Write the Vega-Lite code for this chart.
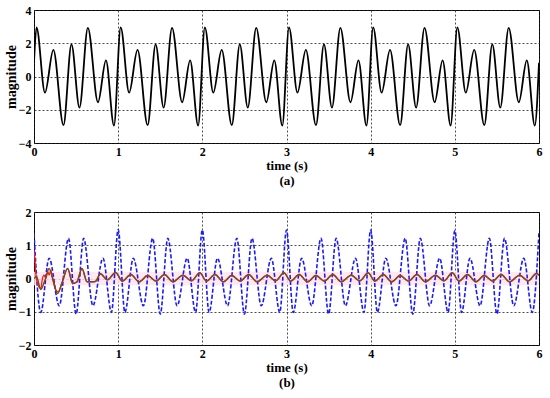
{
  "$schema": "https://vega.github.io/schema/vega-lite/v6.json",
  "padding": {"left": 3, "top": 3, "right": 8, "bottom": 5},
  "spacing": 69,
  "bounds": "flush",
  "background": "white",
  "config": {
    "font": "Liberation Serif",
    "view": {"stroke": "black", "strokeWidth": 1},
    "axis": {
      "labelFont": "Liberation Serif", "labelFontWeight": "bold", "labelFontSize": 12, "labelColor": "black",
      "titleFont": "Liberation Serif", "titleFontWeight": "bold", "titleFontSize": 13, "titleColor": "black",
      "domain": false, "ticks": false, "grid": true, "gridDash": [2, 2], "gridColor": "#222", "gridOpacity": 1, "gridWidth": 0.8,
      "labelPadding": 3, "labelFlush": false, "labelOverlap": false
    },
    "axisY": {"minExtent": 14, "maxExtent": 14}
  },
  "datasets": {
    "top": [
      {"t": 0, "v": 0.82},
      {"t": 0.03, "v": 2.95}, {"t": 0.13, "v": -0.97}, {"t": 0.23, "v": 1.6}, {"t": 0.35, "v": -2.93}, {"t": 0.445, "v": 1.93}, {"t": 0.54, "v": -1.87}, {"t": 0.64, "v": 2.93}, {"t": 0.76, "v": -1.55}, {"t": 0.855, "v": 0.97}, {"t": 0.95, "v": -2.95},
      {"t": 1.03, "v": 2.95}, {"t": 1.13, "v": -0.97}, {"t": 1.23, "v": 1.6}, {"t": 1.35, "v": -2.93}, {"t": 1.445, "v": 1.93}, {"t": 1.54, "v": -1.87}, {"t": 1.64, "v": 2.93}, {"t": 1.76, "v": -1.55}, {"t": 1.855, "v": 0.97}, {"t": 1.95, "v": -2.95},
      {"t": 2.03, "v": 2.95}, {"t": 2.13, "v": -0.97}, {"t": 2.23, "v": 1.6}, {"t": 2.35, "v": -2.93}, {"t": 2.445, "v": 1.93}, {"t": 2.54, "v": -1.87}, {"t": 2.64, "v": 2.93}, {"t": 2.76, "v": -1.55}, {"t": 2.855, "v": 0.97}, {"t": 2.95, "v": -2.95},
      {"t": 3.03, "v": 2.95}, {"t": 3.13, "v": -0.97}, {"t": 3.23, "v": 1.6}, {"t": 3.35, "v": -2.93}, {"t": 3.445, "v": 1.93}, {"t": 3.54, "v": -1.87}, {"t": 3.64, "v": 2.93}, {"t": 3.76, "v": -1.55}, {"t": 3.855, "v": 0.97}, {"t": 3.95, "v": -2.95},
      {"t": 4.03, "v": 2.95}, {"t": 4.13, "v": -0.97}, {"t": 4.23, "v": 1.6}, {"t": 4.35, "v": -2.93}, {"t": 4.445, "v": 1.93}, {"t": 4.54, "v": -1.87}, {"t": 4.64, "v": 2.93}, {"t": 4.76, "v": -1.55}, {"t": 4.855, "v": 0.97}, {"t": 4.95, "v": -2.95},
      {"t": 5.03, "v": 2.95}, {"t": 5.13, "v": -0.97}, {"t": 5.23, "v": 1.6}, {"t": 5.35, "v": -2.93}, {"t": 5.445, "v": 1.93}, {"t": 5.54, "v": -1.87}, {"t": 5.64, "v": 2.93}, {"t": 5.76, "v": -1.55}, {"t": 5.855, "v": 0.97}, {"t": 5.95, "v": -2.95},
      {"t": 6, "v": 0.82}
    ],
    "blue": [
      {"t": 0, "v": 1.35},
      {"t": 0.08, "v": -1.02}, {"t": 0.18, "v": 0.61}, {"t": 0.3, "v": -0.82}, {"t": 0.41, "v": 1.21}, {"t": 0.5, "v": -1.07}, {"t": 0.59, "v": 1.21}, {"t": 0.7, "v": -0.82}, {"t": 0.82, "v": 0.61}, {"t": 0.92, "v": -1.02}, {"t": 1.0, "v": 1.47},
      {"t": 1.08, "v": -1.02}, {"t": 1.18, "v": 0.61}, {"t": 1.3, "v": -0.82}, {"t": 1.41, "v": 1.21}, {"t": 1.5, "v": -1.07}, {"t": 1.59, "v": 1.21}, {"t": 1.7, "v": -0.82}, {"t": 1.82, "v": 0.61}, {"t": 1.92, "v": -1.02}, {"t": 2.0, "v": 1.46},
      {"t": 2.08, "v": -1.02}, {"t": 2.18, "v": 0.61}, {"t": 2.3, "v": -0.82}, {"t": 2.41, "v": 1.21}, {"t": 2.5, "v": -1.07}, {"t": 2.59, "v": 1.21}, {"t": 2.7, "v": -0.82}, {"t": 2.82, "v": 0.61}, {"t": 2.92, "v": -1.02}, {"t": 3.0, "v": 1.46},
      {"t": 3.08, "v": -1.02}, {"t": 3.18, "v": 0.61}, {"t": 3.3, "v": -0.82}, {"t": 3.41, "v": 1.21}, {"t": 3.5, "v": -1.07}, {"t": 3.59, "v": 1.21}, {"t": 3.7, "v": -0.82}, {"t": 3.82, "v": 0.61}, {"t": 3.92, "v": -1.02}, {"t": 4.0, "v": 1.46},
      {"t": 4.08, "v": -1.02}, {"t": 4.18, "v": 0.61}, {"t": 4.3, "v": -0.82}, {"t": 4.41, "v": 1.21}, {"t": 4.5, "v": -1.07}, {"t": 4.59, "v": 1.21}, {"t": 4.7, "v": -0.82}, {"t": 4.82, "v": 0.61}, {"t": 4.92, "v": -1.02}, {"t": 5.0, "v": 1.44},
      {"t": 5.08, "v": -1.02}, {"t": 5.18, "v": 0.61}, {"t": 5.3, "v": -0.82}, {"t": 5.41, "v": 1.21}, {"t": 5.5, "v": -1.07}, {"t": 5.59, "v": 1.21}, {"t": 5.7, "v": -0.82}, {"t": 5.82, "v": 0.61}, {"t": 5.92, "v": -1.02}, {"t": 6.0, "v": 1.4}
    ],
    "red": [
      {"t": 0, "v": 0.85}, {"t": 0.01, "v": 0.6}, {"t": 0.025, "v": 0.05}, {"t": 0.05, "v": -0.2}, {"t": 0.08, "v": -0.3}, {"t": 0.1, "v": 0.0}, {"t": 0.12, "v": 0.1}, {"t": 0.14, "v": 0.0}, {"t": 0.165, "v": 0.2}, {"t": 0.18, "v": 0.1}, {"t": 0.2, "v": 0.25}, {"t": 0.22, "v": 0.0}, {"t": 0.26, "v": -0.35}, {"t": 0.29, "v": -0.4}, {"t": 0.33, "v": -0.15}, {"t": 0.4, "v": 0.3},
      {"t": 0.46, "v": -0.15}, {"t": 0.51, "v": -0.1}, {"t": 0.57, "v": 0.3}, {"t": 0.63, "v": -0.1}, {"t": 0.7, "v": -0.1}, {"t": 0.73, "v": -0.09}, {"t": 0.79, "v": 0.14}, {"t": 0.87, "v": -0.04}, {"t": 0.97, "v": 0.18},
      {"t": 1.05, "v": -0.08}, {"t": 1.15, "v": 0.12}, {"t": 1.25, "v": -0.1}, {"t": 1.35, "v": 0.09}, {"t": 1.45, "v": -0.08}, {"t": 1.55, "v": 0.12}, {"t": 1.65, "v": -0.1}, {"t": 1.77, "v": 0.1}, {"t": 1.87, "v": -0.07}, {"t": 1.97, "v": 0.17},
      {"t": 2.05, "v": -0.08}, {"t": 2.15, "v": 0.12}, {"t": 2.25, "v": -0.1}, {"t": 2.35, "v": 0.09}, {"t": 2.45, "v": -0.08}, {"t": 2.55, "v": 0.12}, {"t": 2.65, "v": -0.1}, {"t": 2.77, "v": 0.1}, {"t": 2.87, "v": -0.07}, {"t": 2.97, "v": 0.17},
      {"t": 3.05, "v": -0.08}, {"t": 3.15, "v": 0.12}, {"t": 3.25, "v": -0.1}, {"t": 3.35, "v": 0.09}, {"t": 3.45, "v": -0.08}, {"t": 3.55, "v": 0.12}, {"t": 3.65, "v": -0.1}, {"t": 3.77, "v": 0.1}, {"t": 3.87, "v": -0.07}, {"t": 3.97, "v": 0.17},
      {"t": 4.05, "v": -0.08}, {"t": 4.15, "v": 0.12}, {"t": 4.25, "v": -0.1}, {"t": 4.35, "v": 0.09}, {"t": 4.45, "v": -0.08}, {"t": 4.55, "v": 0.12}, {"t": 4.65, "v": -0.1}, {"t": 4.77, "v": 0.1}, {"t": 4.87, "v": -0.07}, {"t": 4.97, "v": 0.17},
      {"t": 5.05, "v": -0.08}, {"t": 5.15, "v": 0.12}, {"t": 5.25, "v": -0.1}, {"t": 5.35, "v": 0.09}, {"t": 5.45, "v": -0.08}, {"t": 5.55, "v": 0.12}, {"t": 5.65, "v": -0.1}, {"t": 5.77, "v": 0.1}, {"t": 5.87, "v": -0.07}, {"t": 5.97, "v": 0.15}, {"t": 6.0, "v": 0.1}
    ],
    "est": [
      {"t": 0, "v": 0.0}, {"t": 0.03, "v": 0.05}, {"t": 0.08, "v": -0.33}, {"t": 0.13, "v": -0.05}, {"t": 0.18, "v": 0.3}, {"t": 0.22, "v": 0.02}, {"t": 0.28, "v": -0.45}, {"t": 0.33, "v": -0.15}, {"t": 0.4, "v": 0.3},
      {"t": 0.46, "v": -0.15}, {"t": 0.51, "v": -0.1}, {"t": 0.57, "v": 0.3}, {"t": 0.63, "v": -0.1}, {"t": 0.7, "v": -0.1}, {"t": 0.73, "v": -0.09}, {"t": 0.79, "v": 0.14}, {"t": 0.87, "v": -0.04}, {"t": 0.97, "v": 0.18},
      {"t": 1.05, "v": -0.08}, {"t": 1.15, "v": 0.12}, {"t": 1.25, "v": -0.1}, {"t": 1.35, "v": 0.09}, {"t": 1.45, "v": -0.08}, {"t": 1.55, "v": 0.12}, {"t": 1.65, "v": -0.1}, {"t": 1.77, "v": 0.1}, {"t": 1.87, "v": -0.07}, {"t": 1.97, "v": 0.17},
      {"t": 2.05, "v": -0.08}, {"t": 2.15, "v": 0.12}, {"t": 2.25, "v": -0.1}, {"t": 2.35, "v": 0.09}, {"t": 2.45, "v": -0.08}, {"t": 2.55, "v": 0.12}, {"t": 2.65, "v": -0.1}, {"t": 2.77, "v": 0.1}, {"t": 2.87, "v": -0.07}, {"t": 2.97, "v": 0.17},
      {"t": 3.05, "v": -0.08}, {"t": 3.15, "v": 0.12}, {"t": 3.25, "v": -0.1}, {"t": 3.35, "v": 0.09}, {"t": 3.45, "v": -0.08}, {"t": 3.55, "v": 0.12}, {"t": 3.65, "v": -0.1}, {"t": 3.77, "v": 0.1}, {"t": 3.87, "v": -0.07}, {"t": 3.97, "v": 0.17},
      {"t": 4.05, "v": -0.08}, {"t": 4.15, "v": 0.12}, {"t": 4.25, "v": -0.1}, {"t": 4.35, "v": 0.09}, {"t": 4.45, "v": -0.08}, {"t": 4.55, "v": 0.12}, {"t": 4.65, "v": -0.1}, {"t": 4.77, "v": 0.1}, {"t": 4.87, "v": -0.07}, {"t": 4.97, "v": 0.17},
      {"t": 5.05, "v": -0.08}, {"t": 5.15, "v": 0.12}, {"t": 5.25, "v": -0.1}, {"t": 5.35, "v": 0.09}, {"t": 5.45, "v": -0.08}, {"t": 5.55, "v": 0.12}, {"t": 5.65, "v": -0.1}, {"t": 5.77, "v": 0.1}, {"t": 5.87, "v": -0.07}, {"t": 5.97, "v": 0.15}, {"t": 6.0, "v": 0.1}
    ],
    "band": [{"t0": 0, "t1": 6, "lo": -0.2, "hi": 0.2}]
  },
  "vconcat": [
    {
      "width": 505,
      "height": 133,
      "data": {"name": "top"},
      "mark": {"type": "line", "color": "black", "strokeWidth": 1.8, "interpolate": "monotone", "clip": true},
      "encoding": {
        "x": {"field": "t", "type": "quantitative", "scale": {"domain": [0, 6], "nice": false}, "axis": {"values": [0, 1, 2, 3, 4, 5, 6], "title": ["time (s)", "(a)"], "titlePadding": 2, "titleLineHeight": 15}},
        "y": {"field": "v", "type": "quantitative", "scale": {"domain": [-4, 4], "nice": false}, "axis": {"values": [-4, -2, 0, 2, 4], "title": "magnitude", "titleFontSize": 14, "titlePadding": 2}}
      }
    },
    {
      "width": 505,
      "height": 133,
      "encoding": {
        "x": {"field": "t", "type": "quantitative", "scale": {"domain": [0, 6], "nice": false}, "axis": {"values": [0, 1, 2, 3, 4, 5, 6], "title": ["time (s)", "(b)"], "titlePadding": 2, "titleLineHeight": 15}},
        "y": {"field": "v", "type": "quantitative", "scale": {"domain": [-2, 2], "nice": false}, "axis": {"values": [-2, -1, 0, 1, 2], "title": "magnitude", "titleFontSize": 14, "titlePadding": 2}}
      },
      "layer": [
        {
          "data": {"name": "band"},
          "mark": {"type": "rect", "color": "#ffe3ee", "opacity": 0.8},
          "encoding": {
            "x": {"field": "t0", "type": "quantitative"},
            "x2": {"field": "t1"},
            "y": {"field": "lo", "type": "quantitative"},
            "y2": {"field": "hi"}
          }
        },
        {
          "data": {"name": "blue"},
          "mark": {"type": "line", "color": "#1a1aff", "strokeWidth": 1.6, "strokeDash": [4, 2], "interpolate": "monotone", "clip": true}
        },
        {
          "data": {"name": "red"},
          "mark": {"type": "line", "color": "#ff1a1a", "strokeWidth": 1.3, "interpolate": "monotone", "clip": true}
        },
        {
          "data": {"name": "est"},
          "mark": {"type": "line", "color": "#7d4a1c", "strokeWidth": 1.5, "interpolate": "monotone", "clip": true}
        }
      ]
    }
  ]
}
